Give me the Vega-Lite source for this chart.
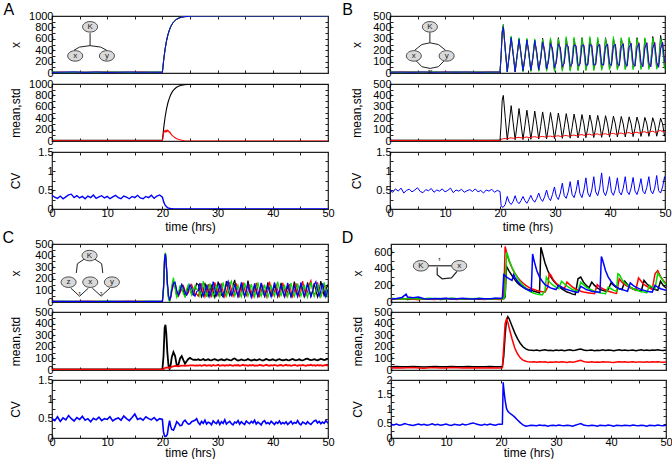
{
"$schema":"https://vega.github.io/schema/vega-lite/v6.json",
"padding":{"left":2,"top":1,"right":0,"bottom":0},
"background":"white",
"config":{
 "view":{"stroke":"#222","strokeWidth":1.2},
 "axis":{"domain":false,"grid":false,"tickSize":-3,"tickColor":"#222","tickWidth":1,"labelFont":"Liberation Sans","labelFontSize":11,"labelColor":"#000","labelFlush":false,"labelOverlap":false,"titleFont":"Liberation Sans","titleFontSize":12,"titleFontWeight":"normal","titleColor":"#000"},
 "axisX":{"labelPadding":1},
 "axisY":{"labelPadding":2},
 "text":{"font":"Liberation Sans"}
},
"datasets":{
"A":[
{"t":0,"a":14,"b":10,"c":18,"d":12,"m":13,"s":4,"cv":0.36},{"t":0.5,"cv":0.31},{"t":1,"cv":0.28},{"t":1.5,"cv":0.34},
{"t":2,"a":12,"b":16,"c":9,"d":15,"m":13,"s":3,"cv":0.27},{"t":2.5,"cv":0.32},{"t":3,"cv":0.37},{"t":3.5,"cv":0.39},
{"t":4,"a":15,"b":11,"c":14,"d":18,"m":14,"s":4,"cv":0.3},{"t":4.5,"cv":0.35},{"t":5,"cv":0.29},{"t":5.5,"cv":0.33},
{"t":6,"a":10,"b":15,"c":13,"d":12,"m":12,"s":3,"cv":0.27},{"t":6.5,"cv":0.34},{"t":7,"cv":0.3},{"t":7.5,"cv":0.37},
{"t":8,"a":16,"b":12,"c":11,"d":17,"m":14,"s":4,"cv":0.28},{"t":8.5,"cv":0.32},{"t":9,"cv":0.35},{"t":9.5,"cv":0.29},
{"t":10,"a":13,"b":18,"c":15,"d":11,"m":14,"s":4,"cv":0.33},{"t":10.5,"cv":0.27},{"t":11,"cv":0.32},{"t":11.5,"cv":0.36},
{"t":12,"a":11,"b":14,"c":17,"d":14,"m":14,"s":3,"cv":0.3},{"t":12.5,"cv":0.27},{"t":13,"cv":0.34},{"t":13.5,"cv":0.31},
{"t":14,"a":15,"b":12,"c":10,"d":16,"m":13,"s":4,"cv":0.27},{"t":14.5,"cv":0.33},{"t":15,"cv":0.3},{"t":15.5,"cv":0.36},
{"t":16,"a":14,"b":17,"c":12,"d":13,"m":14,"s":3,"cv":0.29},{"t":16.5,"cv":0.27},{"t":17,"cv":0.33},{"t":17.5,"cv":0.3},
{"t":18,"a":12,"b":13,"c":16,"d":15,"m":14,"s":4,"cv":0.36},{"t":18.5,"cv":0.28},{"t":19,"cv":0.34},{"t":19.5,"cv":0.37},
{"t":20,"a":14,"b":12,"c":16,"d":13,"m":14,"s":4,"cv":0.31},
{"t":20.25,"a":250,"b":235,"c":245,"d":240,"m":243,"s":150,"cv":0.18},{"t":20.375,"s":175},
{"t":20.5,"a":430,"b":420,"c":425,"d":428,"m":426,"s":160,"cv":0.1},{"t":20.625,"s":185},
{"t":20.75,"a":568,"b":560,"c":565,"d":566,"m":565,"s":165,"cv":0.06},{"t":20.875,"s":190},
{"t":21,"a":672,"b":668,"c":675,"d":670,"m":671,"s":170,"cv":0.03},{"t":21.125,"s":178},
{"t":21.25,"a":750,"b":745,"c":752,"d":748,"m":749,"s":150,"cv":0.02},{"t":21.375,"s":155},
{"t":21.5,"a":812,"b":808,"c":815,"d":811,"m":811,"s":128,"cv":0.01},
{"t":21.75,"a":857,"b":855,"c":860,"d":858,"m":857,"s":100,"cv":0.005},
{"t":22,"a":892,"b":890,"c":895,"d":893,"m":892,"s":80,"cv":0},{"t":22.25,"s":60},
{"t":22.5,"a":938,"b":936,"c":940,"d":939,"m":938,"s":45},
{"t":23,"a":964,"b":963,"c":966,"d":965,"m":964,"s":25},
{"t":23.5,"a":979,"b":978,"c":981,"d":980,"m":979,"s":12},
{"t":24,"a":988,"b":987,"c":990,"d":989,"m":988,"s":5},
{"t":25,"a":996,"b":995,"c":997,"d":996,"m":996,"s":1},
{"t":26,"a":999,"b":998,"c":1000,"d":999,"m":999,"s":0},
{"t":30,"a":1000,"b":1000,"c":1000,"d":1000,"m":1000,"s":0,"cv":0},
{"t":40,"a":1000,"b":1000,"c":1000,"d":1000,"m":1000,"s":0,"cv":0},
{"t":50,"a":1000,"b":1000,"c":1000,"d":1000,"m":1000,"s":0,"cv":0}
],
"B":[
{"t":0,"a":8,"b":6,"c":9,"d":7,"m":7.5,"s":3.5,"cv":0.5},{"t":0.5,"cv":0.44},{"t":1,"cv":0.53},{"t":1.5,"cv":0.47},
{"t":2,"a":7,"b":9,"c":6,"d":8,"m":7.5,"s":3.6,"cv":0.55},{"t":2.5,"cv":0.42},{"t":3,"cv":0.49},{"t":3.5,"cv":0.52},
{"t":4,"a":9,"b":7,"c":8,"d":6,"m":7.5,"s":3.4,"cv":0.45},{"t":4.5,"cv":0.5},{"t":5,"cv":0.56},{"t":5.5,"cv":0.46},
{"t":6,"a":6,"b":8,"c":7,"d":9,"m":7.5,"s":3.5,"cv":0.43},{"t":6.5,"cv":0.51},{"t":7,"cv":0.48},{"t":7.5,"cv":0.54},
{"t":8,"a":8,"b":7,"c":9,"d":6,"m":7.5,"s":3.7,"cv":0.44},{"t":8.5,"cv":0.5},{"t":9,"cv":0.47},{"t":9.5,"cv":0.53},
{"t":10,"a":7,"b":9,"c":6,"d":8,"m":7.5,"s":3.4,"cv":0.45},{"t":10.5,"cv":0.49},{"t":11,"cv":0.55},{"t":11.5,"cv":0.43},
{"t":12,"a":9,"b":6,"c":8,"d":7,"m":7.5,"s":3.6,"cv":0.5},{"t":12.5,"cv":0.47},{"t":13,"cv":0.52},{"t":13.5,"cv":0.44},
{"t":14,"a":6,"b":8,"c":7,"d":9,"m":7.5,"s":3.5,"cv":0.48},{"t":14.5,"cv":0.51},{"t":15,"cv":0.46},{"t":15.5,"cv":0.53},
{"t":16,"a":8,"b":7,"c":9,"d":6,"m":7.5,"s":3.4,"cv":0.45},{"t":16.5,"cv":0.49},{"t":17,"cv":0.42},{"t":17.5,"cv":0.5},
{"t":18,"a":7,"b":9,"c":6,"d":8,"m":7.5,"s":3.6,"cv":0.47},{"t":18.5,"cv":0.52},{"t":19,"cv":0.44},{"t":19.5,"cv":0.49},
{"t":20,"a":8,"b":7,"c":9,"d":8,"m":8,"s":3,"cv":0.46},
{"t":20.2,"a":150,"b":140,"c":145,"d":155,"m":148,"s":15,"cv":0.1},
{"t":20.4,"a":360,"b":355,"c":365,"d":350,"m":357,"s":18,"cv":0.05},
{"t":20.6,"a":425,"b":410,"c":420,"d":405,"m":400,"s":20,"cv":0.05},
{"t":20.96,"a":190,"b":210,"c":200,"d":220,"m":205,"s":22,"cv":0.12},
{"t":21.32,"a":10,"b":15,"c":8,"d":12,"m":10,"s":18,"cv":0.33},
{"t":21.67,"a":160,"b":140,"c":155,"d":150,"m":150,"s":25,"cv":0.18},
{"t":22.03,"a":315,"b":300,"c":325,"d":310,"m":310,"s":28,"cv":0.12},
{"t":22.39,"a":170,"b":180,"c":175,"d":160,"m":160,"s":24,"cv":0.2},
{"t":22.75,"a":12,"b":10,"c":15,"d":9,"m":11,"s":26,"cv":0.35},
{"t":23.1,"a":145,"b":150,"c":140,"d":155,"m":140,"s":30,"cv":0.2},
{"t":23.46,"a":300,"b":290,"c":310,"d":295,"m":285,"s":32,"cv":0.14},
{"t":23.82,"a":160,"b":170,"c":150,"d":175,"m":150,"s":28,"cv":0.22},
{"t":24.18,"a":15,"b":18,"c":10,"d":20,"m":13,"s":27,"cv":0.33},
{"t":24.53,"a":140,"b":130,"c":150,"d":135,"m":135,"s":33,"cv":0.22},
{"t":24.89,"a":295,"b":285,"c":305,"d":290,"m":270,"s":35,"cv":0.15},
{"t":25.25,"a":165,"b":175,"c":150,"d":180,"m":150,"s":30,"cv":0.25},
{"t":25.61,"a":18,"b":22,"c":12,"d":25,"m":15,"s":30,"cv":0.36},
{"t":25.96,"a":130,"b":120,"c":145,"d":125,"m":130,"s":36,"cv":0.24},
{"t":26.32,"a":290,"b":275,"c":300,"d":285,"m":262,"s":38,"cv":0.18},
{"t":26.68,"a":170,"b":185,"c":150,"d":180,"m":148,"s":33,"cv":0.28},
{"t":27.04,"a":20,"b":25,"c":15,"d":30,"m":17,"s":33,"cv":0.42},
{"t":27.39,"a":125,"b":115,"c":140,"d":120,"m":128,"s":38,"cv":0.27},
{"t":27.75,"a":305,"b":280,"c":295,"d":270,"m":255,"s":40,"cv":0.2},
{"t":28.11,"a":180,"b":200,"c":160,"d":190,"m":150,"s":36,"cv":0.32},
{"t":28.47,"a":22,"b":30,"c":15,"d":35,"m":19,"s":35,"cv":0.5},
{"t":28.82,"a":120,"b":110,"c":140,"d":105,"m":125,"s":41,"cv":0.3},
{"t":29.18,"a":300,"b":270,"c":310,"d":260,"m":250,"s":43,"cv":0.22},
{"t":29.54,"a":185,"b":210,"c":165,"d":210,"m":150,"s":38,"cv":0.38},
{"t":29.9,"a":20,"b":40,"c":12,"d":45,"m":21,"s":38,"cv":0.58},
{"t":30.25,"a":115,"b":95,"c":135,"d":100,"m":122,"s":44,"cv":0.33},
{"t":30.61,"a":310,"b":265,"c":300,"d":255,"m":245,"s":46,"cv":0.25},
{"t":30.97,"a":190,"b":220,"c":170,"d":220,"m":150,"s":40,"cv":0.42},
{"t":31.33,"a":25,"b":45,"c":15,"d":55,"m":23,"s":40,"cv":0.68},
{"t":31.68,"a":110,"b":90,"c":130,"d":85,"m":120,"s":47,"cv":0.35},
{"t":32.04,"a":305,"b":260,"c":320,"d":250,"m":240,"s":49,"cv":0.28},
{"t":32.4,"a":195,"b":230,"c":175,"d":235,"m":150,"s":43,"cv":0.45},
{"t":32.76,"a":25,"b":50,"c":15,"d":60,"m":25,"s":43,"cv":0.72},
{"t":33.11,"a":105,"b":85,"c":125,"d":80,"m":118,"s":50,"cv":0.38},
{"t":33.47,"a":300,"b":255,"c":315,"d":245,"m":236,"s":52,"cv":0.3},
{"t":33.83,"a":200,"b":235,"c":180,"d":240,"m":150,"s":46,"cv":0.48},
{"t":34.19,"a":28,"b":55,"c":18,"d":65,"m":27,"s":46,"cv":0.76},
{"t":34.54,"a":100,"b":80,"c":120,"d":75,"m":117,"s":54,"cv":0.4},
{"t":34.9,"a":310,"b":250,"c":305,"d":240,"m":232,"s":56,"cv":0.3},
{"t":35.26,"a":205,"b":240,"c":185,"d":245,"m":150,"s":50,"cv":0.5},
{"t":35.62,"a":30,"b":60,"c":20,"d":70,"m":29,"s":50,"cv":0.82},
{"t":35.97,"a":100,"b":80,"c":115,"d":70,"m":116,"s":58,"cv":0.42},
{"t":36.33,"a":305,"b":245,"c":320,"d":250,"m":228,"s":60,"cv":0.32},
{"t":36.69,"a":205,"b":245,"c":190,"d":240,"m":150,"s":52,"cv":0.5},
{"t":37.05,"a":30,"b":65,"c":20,"d":70,"m":30,"s":53,"cv":0.85},
{"t":37.4,"a":95,"b":75,"c":110,"d":75,"m":115,"s":60,"cv":0.45},
{"t":37.76,"a":300,"b":240,"c":315,"d":235,"m":225,"s":62,"cv":0.35},
{"t":38.12,"a":210,"b":250,"c":195,"d":250,"m":150,"s":55,"cv":0.55},
{"t":38.48,"a":32,"b":70,"c":22,"d":75,"m":32,"s":55,"cv":0.95},
{"t":38.83,"a":95,"b":70,"c":110,"d":70,"m":115,"s":62,"cv":0.45},
{"t":39.19,"a":310,"b":235,"c":305,"d":230,"m":222,"s":64,"cv":0.35},
{"t":39.55,"a":210,"b":255,"c":195,"d":255,"m":150,"s":57,"cv":0.52},
{"t":39.91,"a":35,"b":75,"c":25,"d":80,"m":34,"s":58,"cv":0.85},
{"t":40.26,"a":90,"b":70,"c":105,"d":65,"m":114,"s":66,"cv":0.45},
{"t":40.62,"a":300,"b":230,"c":320,"d":240,"m":218,"s":67,"cv":0.36},
{"t":40.98,"a":215,"b":255,"c":200,"d":250,"m":150,"s":60,"cv":0.52},
{"t":41.34,"a":35,"b":75,"c":25,"d":80,"m":35,"s":60,"cv":0.82},
{"t":41.69,"a":90,"b":65,"c":100,"d":65,"m":113,"s":68,"cv":0.45},
{"t":42.05,"a":305,"b":235,"c":310,"d":230,"m":215,"s":70,"cv":0.37},
{"t":42.41,"a":215,"b":260,"c":205,"d":255,"m":150,"s":63,"cv":0.55},
{"t":42.77,"a":38,"b":80,"c":28,"d":85,"m":36,"s":63,"cv":0.85},
{"t":43.12,"a":85,"b":65,"c":100,"d":60,"m":112,"s":72,"cv":0.46},
{"t":43.48,"a":300,"b":225,"c":315,"d":225,"m":212,"s":74,"cv":0.38},
{"t":43.84,"a":220,"b":260,"c":205,"d":260,"m":150,"s":66,"cv":0.55},
{"t":44.2,"a":40,"b":80,"c":28,"d":85,"m":38,"s":66,"cv":0.83},
{"t":44.55,"a":85,"b":60,"c":95,"d":60,"m":111,"s":75,"cv":0.47},
{"t":44.91,"a":310,"b":230,"c":300,"d":220,"m":210,"s":77,"cv":0.38},
{"t":45.27,"a":220,"b":265,"c":210,"d":260,"m":150,"s":70,"cv":0.55},
{"t":45.63,"a":40,"b":85,"c":30,"d":90,"m":40,"s":70,"cv":0.8},
{"t":45.98,"a":80,"b":60,"c":95,"d":55,"m":110,"s":79,"cv":0.47},
{"t":46.34,"a":300,"b":225,"c":310,"d":215,"m":207,"s":81,"cv":0.4},
{"t":46.7,"a":225,"b":265,"c":210,"d":265,"m":150,"s":73,"cv":0.57},
{"t":47.06,"a":42,"b":85,"c":30,"d":90,"m":41,"s":74,"cv":0.85},
{"t":47.41,"a":80,"b":55,"c":90,"d":55,"m":110,"s":83,"cv":0.48},
{"t":47.77,"a":320,"b":220,"c":305,"d":215,"m":204,"s":86,"cv":0.4},
{"t":48.13,"a":225,"b":270,"c":215,"d":265,"m":150,"s":77,"cv":0.55},
{"t":48.49,"a":42,"b":90,"c":32,"d":95,"m":42,"s":78,"cv":0.88},
{"t":48.84,"a":80,"b":55,"c":90,"d":50,"m":110,"s":88,"cv":0.48},
{"t":49.2,"a":330,"b":215,"c":300,"d":210,"m":200,"s":92,"cv":0.42},
{"t":49.56,"a":230,"b":270,"c":210,"d":270,"m":150,"s":82,"cv":0.58},
{"t":49.92,"a":45,"b":90,"c":35,"d":100,"m":43,"s":83,"cv":0.85},
{"t":50,"a":60,"b":80,"c":50,"d":90,"m":60,"s":85,"cv":0.75}
],
"C":[
{"t":0,"a":5,"b":6,"c":4,"d":5,"m":5,"s":2.5,"cv":0.5},{"t":0.5,"cv":0.45},{"t":1,"cv":0.55},{"t":1.5,"cv":0.43},
{"t":2,"a":6,"b":4,"c":5,"d":6,"m":5,"s":2.4,"cv":0.52},{"t":2.5,"cv":0.47},{"t":3,"cv":0.58},{"t":3.5,"cv":0.5},
{"t":4,"a":4,"b":5,"c":6,"d":5,"m":5,"s":2.6,"cv":0.44},{"t":4.5,"cv":0.53},{"t":5,"cv":0.48},{"t":5.5,"cv":0.56},
{"t":6,"a":5,"b":6,"c":4,"d":6,"m":5,"s":2.5,"cv":0.46},{"t":6.5,"cv":0.5},{"t":7,"cv":0.42},{"t":7.5,"cv":0.51},
{"t":8,"a":6,"b":5,"c":5,"d":4,"m":5,"s":2.4,"cv":0.47},{"t":8.5,"cv":0.54},{"t":9,"cv":0.45},{"t":9.5,"cv":0.5},
{"t":10,"a":5,"b":4,"c":6,"d":5,"m":5,"s":2.6,"cv":0.48},{"t":10.5,"cv":0.55},{"t":11,"cv":0.44},{"t":11.5,"cv":0.49},
{"t":12,"a":4,"b":6,"c":5,"d":6,"m":5,"s":2.5,"cv":0.52},{"t":12.5,"cv":0.46},{"t":13,"cv":0.57},{"t":13.5,"cv":0.5},
{"t":14,"a":6,"b":5,"c":4,"d":5,"m":5,"s":2.4,"cv":0.45},{"t":14.5,"cv":0.53},{"t":15,"cv":0.62},{"t":15.5,"cv":0.48},
{"t":16,"a":5,"b":6,"c":6,"d":4,"m":5,"s":2.6,"cv":0.51},{"t":16.5,"cv":0.46},{"t":17,"cv":0.55},{"t":17.5,"cv":0.5},
{"t":18,"a":6,"b":4,"c":5,"d":6,"m":5,"s":2.5,"cv":0.47},{"t":18.5,"cv":0.53},{"t":19,"cv":0.45},{"t":19.5,"cv":0.5},
{"t":20,"a":5,"b":6,"c":4,"d":5,"m":5,"s":2,"cv":0.48},
{"t":20.2,"a":120,"b":110,"c":130,"d":115,"m":118,"s":8,"cv":0.15},
{"t":20.4,"a":380,"b":370,"c":390,"d":375,"m":360,"s":15,"cv":0.05},
{"t":20.55,"a":420,"b":410,"c":425,"d":415,"m":390,"s":18,"cv":0.04},
{"t":20.7,"a":330,"b":320,"c":340,"d":335,"m":320,"s":20,"cv":0.05},
{"t":20.9,"a":150,"b":160,"c":140,"d":170,"m":150,"s":22,"cv":0.1},
{"t":21.1,"a":40,"b":50,"c":30,"d":60,"m":40,"s":20,"cv":0.3},
{"t":21.3,"a":8,"b":15,"c":5,"d":20,"m":10,"s":18,"cv":0.45},
{"t":21.5,"a":50,"b":35,"c":60,"d":40,"m":45,"s":22,"cv":0.3},
{"t":21.7,"a":120,"b":90,"c":140,"d":100,"m":110,"s":28,"cv":0.22},
{"t":22,"a":180,"b":150,"c":210,"d":160,"m":155,"s":32,"cv":0.2},
{"t":22.3,"a":130,"b":160,"c":120,"d":170,"m":120,"s":35,"cv":0.3},
{"t":22.6,"a":50,"b":90,"c":40,"d":100,"m":40,"s":33,"cv":0.42},
{"t":22.9,"a":60,"b":50,"c":80,"d":60,"m":45,"s":32,"cv":0.38},
{"t":23.2,"a":120,"b":80,"c":140,"d":90,"m":100,"s":35,"cv":0.32},
{"t":23.5,"a":150,"b":110,"c":130,"d":150,"m":120,"s":38,"cv":0.33},
{"t":23.8,"a":90,"b":140,"c":70,"d":130,"m":85,"s":38,"cv":0.42},
{"t":24.1,"a":50,"b":100,"c":45,"d":80,"m":55,"s":36,"cv":0.46},
{"t":24.4,"a":90,"b":60,"c":110,"d":60,"m":75,"s":37,"cv":0.4},
{"t":24.7,"a":140,"b":80,"c":150,"d":100,"m":95,"s":38,"cv":0.36},
{"t":25,"a":120,"b":130,"c":110,"d":150,"m":104,"s":40,"cv":0.37},
{"t":25.3,"a":70,"b":150,"c":60,"d":120,"m":95,"s":40,"cv":0.42},
{"t":25.6,"a":60,"b":110,"c":100,"d":70,"m":88,"s":39,"cv":0.44},
{"t":25.9,"a":110,"b":60,"c":140,"d":50,"m":90,"s":38,"cv":0.46},
{"t":26.2,"a":160,"b":70,"c":110,"d":90,"m":88,"s":40,"cv":0.5},
{"t":26.5,"a":150,"b":50,"c":110,"d":100,"m":92,"s":38,"cv":0.4},
{"t":26.8,"a":95,"b":95,"c":50,"d":165,"m":85,"s":42,"cv":0.35},
{"t":27.1,"a":45,"b":160,"c":100,"d":105,"m":88,"s":36,"cv":0.43},
{"t":27.4,"a":90,"b":100,"c":180,"d":50,"m":95,"s":40,"cv":0.38},
{"t":27.7,"a":165,"b":45,"c":110,"d":90,"m":84,"s":44,"cv":0.46},
{"t":28,"a":100,"b":90,"c":45,"d":150,"m":87,"s":37,"cv":0.36},
{"t":28.3,"a":50,"b":155,"c":95,"d":95,"m":92,"s":39,"cv":0.41},
{"t":28.6,"a":95,"b":95,"c":160,"d":45,"m":86,"s":41,"cv":0.39},
{"t":28.9,"a":140,"b":50,"c":100,"d":95,"m":83,"s":35,"cv":0.34},
{"t":29.2,"a":90,"b":100,"c":50,"d":175,"m":90,"s":43,"cv":0.44},
{"t":29.5,"a":40,"b":170,"c":90,"d":110,"m":94,"s":38,"cv":0.4},
{"t":29.8,"a":85,"b":105,"c":150,"d":55,"m":87,"s":40,"cv":0.37},
{"t":30.1,"a":175,"b":55,"c":95,"d":90,"m":82,"s":45,"cv":0.45},
{"t":30.4,"a":120,"b":95,"c":45,"d":160,"m":88,"s":36,"cv":0.35},
{"t":30.7,"a":60,"b":150,"c":100,"d":100,"m":92,"s":39,"cv":0.42},
{"t":31,"a":45,"b":95,"c":170,"d":50,"m":85,"s":42,"cv":0.38},
{"t":31.3,"a":95,"b":45,"c":105,"d":100,"m":84,"s":37,"cv":0.47},
{"t":31.6,"a":180,"b":85,"c":50,"d":150,"m":93,"s":41,"cv":0.36},
{"t":31.9,"a":110,"b":140,"c":95,"d":180,"m":90,"s":38,"cv":0.4},
{"t":32.2,"a":55,"b":165,"c":150,"d":110,"m":86,"s":44,"cv":0.43},
{"t":32.5,"a":90,"b":100,"c":180,"d":55,"m":83,"s":40,"cv":0.37},
{"t":32.8,"a":145,"b":50,"c":110,"d":90,"m":95,"s":36,"cv":0.34},
{"t":33.1,"a":190,"b":90,"c":50,"d":155,"m":100,"s":42,"cv":0.41},
{"t":33.4,"a":100,"b":160,"c":90,"d":95,"m":88,"s":39,"cv":0.39},
{"t":33.7,"a":50,"b":100,"c":145,"d":45,"m":82,"s":43,"cv":0.45},
{"t":34,"a":95,"b":50,"c":95,"d":100,"m":86,"s":37,"cv":0.36},
{"t":34.3,"a":150,"b":95,"c":45,"d":170,"m":91,"s":40,"cv":0.42},
{"t":34.6,"a":95,"b":170,"c":100,"d":105,"m":85,"s":45,"cv":0.38},
{"t":34.9,"a":45,"b":110,"c":165,"d":50,"m":83,"s":38,"cv":0.35},
{"t":35.2,"a":100,"b":55,"c":105,"d":95,"m":88,"s":41,"cv":0.44},
{"t":35.5,"a":185,"b":90,"c":50,"d":150,"m":94,"s":36,"cv":0.4},
{"t":35.8,"a":110,"b":150,"c":90,"d":95,"m":87,"s":42,"cv":0.37},
{"t":36.1,"a":55,"b":95,"c":155,"d":40,"m":82,"s":39,"cv":0.43},
{"t":36.4,"a":80,"b":45,"c":100,"d":90,"m":86,"s":44,"cv":0.39},
{"t":36.7,"a":140,"b":95,"c":45,"d":160,"m":90,"s":37,"cv":0.46},
{"t":37,"a":95,"b":165,"c":95,"d":100,"m":84,"s":40,"cv":0.36},
{"t":37.3,"a":45,"b":100,"c":170,"d":50,"m":88,"s":38,"cv":0.41},
{"t":37.6,"a":90,"b":50,"c":110,"d":95,"m":93,"s":43,"cv":0.38},
{"t":37.9,"a":160,"b":90,"c":50,"d":165,"m":86,"s":41,"cv":0.34},
{"t":38.2,"a":100,"b":140,"c":90,"d":105,"m":82,"s":36,"cv":0.42},
{"t":38.5,"a":50,"b":90,"c":150,"d":50,"m":87,"s":39,"cv":0.45},
{"t":38.8,"a":95,"b":45,"c":95,"d":90,"m":95,"s":45,"cv":0.37},
{"t":39.1,"a":170,"b":100,"c":40,"d":140,"m":89,"s":40,"cv":0.4},
{"t":39.4,"a":110,"b":175,"c":85,"d":90,"m":84,"s":37,"cv":0.36},
{"t":39.7,"a":55,"b":110,"c":140,"d":45,"m":88,"s":42,"cv":0.43},
{"t":40,"a":90,"b":55,"c":95,"d":100,"m":92,"s":38,"cv":0.39},
{"t":40.3,"a":150,"b":90,"c":50,"d":170,"m":85,"s":44,"cv":0.35},
{"t":40.6,"a":95,"b":150,"c":100,"d":110,"m":82,"s":39,"cv":0.41},
{"t":40.9,"a":45,"b":100,"c":175,"d":55,"m":89,"s":36,"cv":0.38},
{"t":41.2,"a":95,"b":50,"c":110,"d":90,"m":94,"s":41,"cv":0.44},
{"t":41.5,"a":165,"b":95,"c":55,"d":150,"m":88,"s":43,"cv":0.36},
{"t":41.8,"a":100,"b":165,"c":90,"d":95,"m":84,"s":37,"cv":0.4},
{"t":42.1,"a":50,"b":105,"c":150,"d":45,"m":86,"s":40,"cv":0.37},
{"t":42.4,"a":85,"b":50,"c":95,"d":100,"m":91,"s":45,"cv":0.42},
{"t":42.7,"a":140,"b":90,"c":45,"d":165,"m":85,"s":38,"cv":0.35},
{"t":43,"a":90,"b":155,"c":100,"d":100,"m":83,"s":42,"cv":0.39},
{"t":43.3,"a":45,"b":95,"c":165,"d":50,"m":90,"s":36,"cv":0.43},
{"t":43.6,"a":100,"b":45,"c":100,"d":90,"m":95,"s":39,"cv":0.36},
{"t":43.9,"a":175,"b":90,"c":50,"d":145,"m":88,"s":44,"cv":0.4},
{"t":44.2,"a":110,"b":160,"c":90,"d":95,"m":84,"s":40,"cv":0.38},
{"t":44.5,"a":55,"b":100,"c":160,"d":45,"m":87,"s":37,"cv":0.45},
{"t":44.8,"a":95,"b":50,"c":105,"d":100,"m":92,"s":41,"cv":0.37},
{"t":45.1,"a":155,"b":95,"c":50,"d":170,"m":86,"s":38,"cv":0.34},
{"t":45.4,"a":95,"b":180,"c":90,"d":105,"m":83,"s":43,"cv":0.41},
{"t":45.7,"a":45,"b":110,"c":150,"d":50,"m":88,"s":39,"cv":0.39},
{"t":46,"a":90,"b":55,"c":95,"d":95,"m":95,"s":36,"cv":0.36},
{"t":46.3,"a":170,"b":90,"c":40,"d":155,"m":98,"s":42,"cv":0.42},
{"t":46.6,"a":105,"b":150,"c":95,"d":100,"m":90,"s":40,"cv":0.38},
{"t":46.9,"a":50,"b":185,"c":170,"d":45,"m":85,"s":45,"cv":0.35},
{"t":47.2,"a":95,"b":110,"c":105,"d":90,"m":88,"s":38,"cv":0.4},
{"t":47.5,"a":160,"b":55,"c":50,"d":150,"m":93,"s":41,"cv":0.44},
{"t":47.8,"a":100,"b":95,"c":90,"d":175,"m":87,"s":37,"cv":0.46},
{"t":48.1,"a":45,"b":170,"c":155,"d":105,"m":84,"s":44,"cv":0.39},
{"t":48.4,"a":90,"b":100,"c":100,"d":50,"m":90,"s":39,"cv":0.43},
{"t":48.7,"a":180,"b":50,"c":45,"d":95,"m":96,"s":42,"cv":0.37},
{"t":49,"a":110,"b":90,"c":95,"d":160,"m":92,"s":36,"cv":0.41},
{"t":49.3,"a":55,"b":160,"c":170,"d":100,"m":86,"s":40,"cv":0.38},
{"t":49.6,"a":95,"b":100,"c":110,"d":45,"m":90,"s":43,"cv":0.45},
{"t":49.9,"a":150,"b":55,"c":50,"d":90,"m":95,"s":38,"cv":0.4},
{"t":50,"a":130,"b":70,"c":60,"d":110,"m":92,"s":40,"cv":0.42}
],
"D":[
{"t":0,"a":40,"b":30,"c":45,"d":35,"m":28,"s":18,"cv":0.47},{"t":0.5,"cv":0.45},
{"t":1,"a":35,"b":38,"c":40,"d":42,"m":30,"s":20,"cv":0.48},{"t":1.5,"cv":0.44},
{"t":2,"a":45,"b":32,"c":36,"d":55,"m":27,"s":17,"cv":0.46},{"t":2.5,"cv":0.5},{"t":2.75,"d":95},
{"t":3,"a":30,"b":42,"c":38,"d":60,"m":29,"s":19,"cv":0.47},{"t":3.5,"cv":0.45},
{"t":4,"a":38,"b":35,"c":44,"d":50,"m":31,"s":21,"cv":0.43},{"t":4.5,"cv":0.46},
{"t":5,"a":42,"b":28,"c":35,"d":60,"m":28,"s":18,"cv":0.48},{"t":5.5,"cv":0.45},
{"t":6,"a":33,"b":40,"c":40,"d":40,"m":26,"s":16,"cv":0.47},{"t":6.5,"cv":0.44},
{"t":7,"a":36,"b":34,"c":46,"d":35,"m":29,"s":19,"cv":0.46},{"t":7.5,"cv":0.49},
{"t":8,"a":40,"b":30,"c":38,"d":42,"m":30,"s":20,"cv":0.45},{"t":8.5,"cv":0.47},
{"t":9,"a":30,"b":38,"c":42,"d":38,"m":27,"s":17,"cv":0.44},{"t":9.5,"cv":0.46},
{"t":10,"a":35,"b":42,"c":36,"d":45,"m":28,"s":18,"cv":0.48},{"t":10.5,"cv":0.45},
{"t":11,"a":42,"b":35,"c":44,"d":36,"m":31,"s":21,"cv":0.43},{"t":11.5,"cv":0.47},
{"t":12,"a":38,"b":30,"c":40,"d":40,"m":29,"s":19,"cv":0.46},{"t":12.5,"cv":0.44},
{"t":13,"a":32,"b":38,"c":35,"d":44,"m":27,"s":17,"cv":0.48},{"t":13.5,"cv":0.45},
{"t":14,"a":36,"b":33,"c":42,"d":38,"m":30,"s":20,"cv":0.47},{"t":14.5,"cv":0.5},
{"t":15,"a":40,"b":40,"c":38,"d":35,"m":28,"s":18,"cv":0.52},{"t":15.5,"cv":0.48},
{"t":16,"a":34,"b":36,"c":45,"d":42,"m":29,"s":19,"cv":0.46},{"t":16.5,"cv":0.44},
{"t":17,"a":38,"b":30,"c":40,"d":40,"m":27,"s":17,"cv":0.47},{"t":17.5,"cv":0.45},
{"t":18,"a":35,"b":38,"c":36,"d":38,"m":30,"s":20,"cv":0.48},{"t":18.5,"cv":0.46},
{"t":19,"a":42,"b":34,"c":40,"d":45,"m":28,"s":18,"cv":0.44},{"t":19.5,"cv":0.47},
{"t":20,"a":35,"b":30,"c":40,"d":45,"m":28,"s":18,"cv":0.47},
{"t":20.25,"a":38,"b":35,"c":38,"d":50,"m":30,"s":20,"cv":0.48},
{"t":20.4,"cv":1.92},
{"t":20.5,"a":40,"b":60,"c":42,"d":330,"m":120,"s":200,"cv":1.7},
{"t":20.75,"a":60,"b":670,"c":90,"d":320,"m":300,"s":400,"cv":1.3},
{"t":21,"a":430,"b":600,"c":600,"d":300,"m":430,"s":440,"cv":1.02},
{"t":21.25,"a":400,"b":540,"c":560,"d":290,"m":460,"s":410,"cv":0.92},
{"t":21.5,"a":370,"b":490,"c":500,"d":280,"m":440,"s":360,"cv":0.87},
{"t":22,"a":320,"b":410,"c":420,"d":260,"m":380,"s":270,"cv":0.8},
{"t":22.3,"d":330},
{"t":22.5,"a":270,"b":350,"c":350,"d":300,"m":320,"s":190,"cv":0.72},
{"t":23,"a":230,"b":300,"c":290,"d":250,"m":270,"s":140,"cv":0.62},
{"t":23.5,"a":200,"b":260,"c":240,"d":210,"m":230,"s":105,"cv":0.53},
{"t":24,"a":180,"b":230,"c":200,"d":180,"m":200,"s":85,"cv":0.45},
{"t":24.5,"a":160,"b":200,"c":170,"d":160,"m":182,"s":75,"cv":0.41},
{"t":25,"a":150,"b":180,"c":140,"d":140,"m":172,"s":70,"cv":0.42},
{"t":25.5,"a":140,"b":160,"c":120,"d":130,"m":170,"s":68,"cv":0.44},
{"t":25.75,"d":580},
{"t":26,"a":130,"b":150,"c":105,"d":500,"m":168,"s":72,"cv":0.43},
{"t":26.5,"a":120,"b":140,"c":95,"d":380,"m":172,"s":66,"cv":0.42},
{"t":27,"a":110,"b":130,"c":90,"d":300,"m":166,"s":70,"cv":0.45},
{"t":27.25,"a":660},
{"t":27.5,"a":600,"b":125,"c":85,"d":250,"m":170,"s":68,"cv":0.43},
{"t":28,"a":470,"b":120,"c":140,"d":210,"m":174,"s":71,"cv":0.44},
{"t":28.25,"c":300},
{"t":28.5,"a":380,"b":180,"c":270,"d":190,"m":168,"s":65,"cv":0.41},
{"t":28.75,"b":340},
{"t":29,"a":310,"b":330,"c":230,"d":170,"m":171,"s":69,"cv":0.43},
{"t":29.5,"a":260,"b":270,"c":200,"d":160,"m":167,"s":67,"cv":0.44},
{"t":30,"a":220,"b":230,"c":180,"d":150,"m":173,"s":70,"cv":0.42},
{"t":30.5,"a":190,"b":200,"c":160,"d":200,"m":169,"s":66,"cv":0.45},
{"t":31,"a":160,"b":180,"c":250,"d":180,"m":172,"s":71,"cv":0.43},
{"t":31.5,"a":140,"b":160,"c":220,"d":160,"m":166,"s":68,"cv":0.42},
{"t":32,"a":120,"b":240,"c":190,"d":150,"m":170,"s":65,"cv":0.44},
{"t":32.5,"a":110,"b":210,"c":170,"d":140,"m":174,"s":70,"cv":0.43},
{"t":33,"a":95,"b":180,"c":150,"d":130,"m":168,"s":67,"cv":0.41},
{"t":33.5,"a":90,"b":160,"c":140,"d":120,"m":171,"s":72,"cv":0.44},
{"t":34,"a":280,"b":145,"c":130,"d":115,"m":176,"s":78,"cv":0.47},
{"t":34.5,"a":300,"b":130,"c":240,"d":190,"m":180,"s":84,"cv":0.5},
{"t":35,"a":240,"b":120,"c":210,"d":170,"m":172,"s":74,"cv":0.45},
{"t":35.5,"a":200,"b":115,"c":180,"d":150,"m":168,"s":68,"cv":0.43},
{"t":36,"a":170,"b":110,"c":160,"d":140,"m":170,"s":66,"cv":0.42},
{"t":36.5,"a":240,"b":105,"c":145,"d":130,"m":173,"s":70,"cv":0.44},
{"t":37,"a":200,"b":100,"c":130,"d":125,"m":167,"s":67,"cv":0.43},
{"t":37.5,"a":170,"b":210,"c":120,"d":120,"m":171,"s":69,"cv":0.41},
{"t":38,"a":150,"b":180,"c":110,"d":115,"m":169,"s":66,"cv":0.44},
{"t":38.25,"d":550},
{"t":38.5,"a":140,"b":160,"c":105,"d":500,"m":174,"s":71,"cv":0.43},
{"t":39,"a":130,"b":145,"c":100,"d":380,"m":168,"s":68,"cv":0.42},
{"t":39.5,"a":150,"b":130,"c":180,"d":300,"m":172,"s":70,"cv":0.45},
{"t":40,"a":230,"b":120,"c":160,"d":250,"m":170,"s":67,"cv":0.43},
{"t":40.5,"a":200,"b":110,"c":140,"d":210,"m":166,"s":65,"cv":0.41},
{"t":41,"a":175,"b":105,"c":130,"d":180,"m":171,"s":69,"cv":0.44},
{"t":41.25,"c":340},
{"t":41.5,"a":160,"b":280,"c":330,"d":160,"m":175,"s":72,"cv":0.43},
{"t":42,"a":150,"b":240,"c":270,"d":150,"m":169,"s":68,"cv":0.42},
{"t":42.5,"a":250,"b":210,"c":230,"d":140,"m":172,"s":70,"cv":0.44},
{"t":43,"a":210,"b":190,"c":200,"d":130,"m":168,"s":66,"cv":0.43},
{"t":43.5,"a":180,"b":170,"c":180,"d":230,"m":170,"s":69,"cv":0.42},
{"t":44,"a":160,"b":155,"c":160,"d":200,"m":173,"s":71,"cv":0.45},
{"t":44.5,"a":150,"b":140,"c":145,"d":180,"m":167,"s":67,"cv":0.43},
{"t":45,"a":140,"b":290,"c":135,"d":165,"m":171,"s":70,"cv":0.42},
{"t":45.5,"a":130,"b":250,"c":125,"d":150,"m":174,"s":68,"cv":0.44},
{"t":46,"a":260,"b":210,"c":120,"d":140,"m":169,"s":66,"cv":0.43},
{"t":46.5,"a":220,"b":190,"c":110,"d":130,"m":172,"s":70,"cv":0.41},
{"t":47,"a":190,"b":170,"c":200,"d":125,"m":168,"s":67,"cv":0.44},
{"t":47.5,"a":170,"b":150,"c":180,"d":120,"m":173,"s":71,"cv":0.43},
{"t":48,"a":150,"b":340,"c":160,"d":200,"m":170,"s":68,"cv":0.42},
{"t":48.5,"a":140,"b":380,"c":350,"d":180,"m":175,"s":72,"cv":0.45},
{"t":49,"a":250,"b":310,"c":300,"d":160,"m":171,"s":69,"cv":0.43},
{"t":49.5,"a":200,"b":260,"c":250,"d":150,"m":168,"s":67,"cv":0.42},
{"t":50,"a":170,"b":220,"c":210,"d":140,"m":172,"s":70,"cv":0.44}
],
"nA":[{"t":6.9,"v":810,"lab":"K"},{"t":4.2,"v":300,"lab":"x"},{"t":9.95,"v":300,"lab":"y"}],
"eA":[{"e":1,"o":1,"t":6.9,"v":700},{"e":1,"o":2,"t":6.9,"v":480},{"e":2,"o":1,"t":4.0,"v":400},{"e":2,"o":2,"t":5.0,"v":455},{"e":2,"o":3,"t":6.9,"v":480},{"e":2,"o":4,"t":8.8,"v":455},{"e":2,"o":5,"t":9.9,"v":400}],
"lA":[{"t":-7.8,"v":1100,"lab":"A","fs":16}],
"nB":[{"t":7.25,"v":405,"lab":"K"},{"t":4.33,"v":150,"lab":"x"},{"t":10.3,"v":150,"lab":"y"}],
"eB":[{"e":1,"o":1,"t":7.25,"v":355},{"e":1,"o":2,"t":7.25,"v":265},{"e":2,"o":1,"t":4.5,"v":200},{"e":2,"o":2,"t":5.8,"v":250},{"e":2,"o":3,"t":7.25,"v":265},{"e":2,"o":4,"t":8.8,"v":250},{"e":2,"o":5,"t":10.1,"v":200},{"e":3,"o":1,"t":4.7,"v":110},{"e":3,"o":2,"t":5.8,"v":55},{"e":3,"o":3,"t":7.3,"v":40},{"e":3,"o":4,"t":8.8,"v":55},{"e":3,"o":5,"t":9.9,"v":110}],
"lB":[{"t":-7.7,"v":550,"lab":"B","fs":16},{"t":7.3,"v":15,"lab":"τr","fs":6}],
"nC":[{"t":6.8,"v":400,"lab":"K"},{"t":3.0,"v":171,"lab":"z"},{"t":6.93,"v":171,"lab":"x"},{"t":10.85,"v":171,"lab":"y"}],
"eC":[{"e":1,"o":1,"t":6.0,"v":375},{"e":1,"o":2,"t":4.6,"v":330},{"e":1,"o":3,"t":4.4,"v":250},{"e":2,"o":1,"t":7.6,"v":375},{"e":2,"o":2,"t":9.0,"v":330},{"e":2,"o":3,"t":9.2,"v":250},{"e":3,"o":1,"t":3.4,"v":120},{"e":3,"o":2,"t":5.0,"v":50},{"e":3,"o":3,"t":6.6,"v":120},{"e":4,"o":1,"t":7.3,"v":120},{"e":4,"o":2,"t":8.9,"v":50},{"e":4,"o":3,"t":10.5,"v":120}],
"lC":[{"t":-7.9,"v":552,"lab":"C","fs":16},{"t":5.0,"v":80,"lab":"τ","fs":6},{"t":8.9,"v":80,"lab":"τ","fs":6}],
"nD":[{"t":5.43,"v":437,"lab":"K"},{"t":12.4,"v":437,"lab":"x"}],
"eD":[{"e":1,"o":1,"t":6.8,"v":437},{"e":1,"o":2,"t":11.0,"v":437},{"e":2,"o":1,"t":12.0,"v":370},{"e":2,"o":2,"t":11.0,"v":290},{"e":2,"o":3,"t":9.3,"v":280},{"e":2,"o":4,"t":8.4,"v":330},{"e":2,"o":5,"t":8.4,"v":420}],
"lD":[{"t":-7.9,"v":770,"lab":"D","fs":16},{"t":8.8,"v":520,"lab":"τ","fs":6}]
},
"spacing":-4,
"vconcat":[
{"hconcat":[
{"vconcat":[
{"width":276,"height":57,
"layer":[
{"data":{"name":"A"},"transform":[{"fold":["a","b","c","d"],"as":["k","v"]},{"filter":"isValid(datum.v)"}],
"mark":{"type":"line","strokeWidth":1,"clip":true},
"encoding":{
"x":{"field":"t","type":"quantitative","scale":{"domain":[0,50],"nice":false},"axis":{"orient":"bottom","values":[0,5,10,15,20,25,30,35,40,45,50],"labels":false,"title":null}},
"y":{"field":"v","type":"quantitative","scale":{"domain":[0,1000],"nice":false},"axis":{"orient":"left","values":[0,100,200,300,400,500,600,700,800,900,1000],"labelExpr":"datum.value % 200 == 0 ? format(datum.value,'d') : ''","title":"x","titleX":-30,"labelOverlap":false}},
"color":{"field":"k","type":"nominal","scale":{"domain":["a","b","c","d"],"range":["#000000","#ff0000","#00dd00","#0000ff"]},"legend":null}}},
{"data":{"name":"eA"},"mark":{"type":"line","color":"#222","strokeWidth":1},"encoding":{"x":{"field":"t","type":"quantitative","scale":{"domain":[0,50],"nice":false},"axis":{"orient":"top","values":[0,5,10,15,20,25,30,35,40,45,50],"labels":false,"title":null}},"y":{"field":"v","type":"quantitative","scale":{"domain":[0,1000],"nice":false},"axis":{"orient":"right","values":[0,100,200,300,400,500,600,700,800,900,1000],"labels":false,"title":null}},"detail":{"field":"e","type":"nominal"},"order":{"field":"o","type":"quantitative"}}},
{"data":{"name":"nA"},"mark":{"type":"point","shape":"M-1,0A1,0.7,0,1,1,1,0A1,0.7,0,1,1,-1,0Z","size":225,"filled":true,"fill":"#d9d9d9","stroke":"#222","strokeWidth":0.8,"opacity":1},"encoding":{"x":{"field":"t","type":"quantitative","scale":{"domain":[0,50],"nice":false},"axis":null},"y":{"field":"v","type":"quantitative","scale":{"domain":[0,1000],"nice":false},"axis":null}}},
{"data":{"name":"nA"},"mark":{"type":"text","fontSize":8,"color":"#222"},"encoding":{"x":{"field":"t","type":"quantitative","scale":{"domain":[0,50],"nice":false},"axis":null},"y":{"field":"v","type":"quantitative","scale":{"domain":[0,1000],"nice":false},"axis":null},"text":{"field":"lab","type":"nominal"}}},
{"data":{"name":"lA"},"mark":{"type":"text","color":"#000"},"encoding":{"x":{"field":"t","type":"quantitative","scale":{"domain":[0,50],"nice":false},"axis":null},"y":{"field":"v","type":"quantitative","scale":{"domain":[0,1000],"nice":false},"axis":null},"text":{"field":"lab","type":"nominal"},"size":{"field":"fs","type":"quantitative","scale":null}}}
],
"resolve":{"scale":{"x":"independent","y":"independent"}}},
{"width":276,"height":57,
"layer":[
{"data":{"name":"A"},"transform":[{"fold":["m","s"],"as":["k","v"]},{"filter":"isValid(datum.v)"}],
"mark":{"type":"line","strokeWidth":1.1,"clip":true},
"encoding":{
"x":{"field":"t","type":"quantitative","scale":{"domain":[0,50],"nice":false},"axis":{"values":[0,5,10,15,20,25,30,35,40,45,50],"labels":false,"title":null}},
"y":{"field":"v","type":"quantitative","scale":{"domain":[0,1000],"nice":false},"axis":{"values":[0,100,200,300,400,500,600,700,800,900,1000],"labelExpr":"datum.value % 200 == 0 ? format(datum.value,'d') : ''","title":"mean,std","titleX":-30}},
"color":{"field":"k","type":"nominal","scale":{"domain":["m","s"],"range":["#000000","#ff0000"]},"legend":null}}},
{"data":{"values":[{"t":0,"v":0}]},"mark":{"type":"point","opacity":0},"encoding":{"x":{"field":"t","type":"quantitative","scale":{"domain":[0,50],"nice":false},"axis":{"orient":"top","values":[0,5,10,15,20,25,30,35,40,45,50],"labels":false,"title":null}},"y":{"field":"v","type":"quantitative","scale":{"domain":[0,1000],"nice":false},"axis":{"orient":"right","values":[0,100,200,300,400,500,600,700,800,900,1000],"labels":false,"title":null}}}}
],
"resolve":{"scale":{"x":"independent","y":"independent"}}},
{"width":276,"height":57,
"layer":[
{"data":{"name":"A"},"transform":[{"filter":"isValid(datum.cv)"}],
"mark":{"type":"line","strokeWidth":1.4,"color":"#0000ff","clip":true},
"encoding":{
"x":{"field":"t","type":"quantitative","scale":{"domain":[0,50],"nice":false},"axis":{"values":[0,5,10,15,20,25,30,35,40,45,50],"labelExpr":"datum.value % 10 == 0 ? format(datum.value,'d') : ''","title":"time (hrs)","titlePadding":3}},
"y":{"field":"cv","type":"quantitative","scale":{"domain":[0,1.5],"nice":false},"axis":{"values":[0,0.25,0.5,0.75,1,1.25,1.5],"labelExpr":"round(datum.value*4) % 2 == 0 ? format(datum.value,'~g') : ''","title":"CV","titleX":-30}}}},
{"data":{"values":[{"t":0,"v":0}]},"mark":{"type":"point","opacity":0},"encoding":{"x":{"field":"t","type":"quantitative","scale":{"domain":[0,50],"nice":false},"axis":{"orient":"top","values":[0,5,10,15,20,25,30,35,40,45,50],"labels":false,"title":null}},"y":{"field":"v","type":"quantitative","scale":{"domain":[0,1.5],"nice":false},"axis":{"orient":"right","values":[0,0.25,0.5,0.75,1,1.25,1.5],"labels":false,"title":null}}}}
],
"resolve":{"scale":{"x":"independent","y":"independent"}}}
],"spacing":-2},
{"vconcat":[
{"width":275,"height":57,
"layer":[
{"data":{"name":"B"},"transform":[{"fold":["a","b","c","d"],"as":["k","v"]},{"filter":"isValid(datum.v)"}],
"mark":{"type":"line","strokeWidth":0.9,"clip":true},
"encoding":{
"x":{"field":"t","type":"quantitative","scale":{"domain":[0,50],"nice":false},"axis":{"orient":"bottom","values":[0,5,10,15,20,25,30,35,40,45,50],"labels":false,"title":null}},
"y":{"field":"v","type":"quantitative","scale":{"domain":[0,500],"nice":false},"axis":{"orient":"left","values":[0,50,100,150,200,250,300,350,400,450,500],"labelExpr":"datum.value % 100 == 0 ? format(datum.value,'d') : ''","title":"x","titleX":-27,"labelOverlap":false}},
"color":{"field":"k","type":"nominal","scale":{"domain":["a","b","c","d"],"range":["#000000","#ff0000","#00dd00","#0000ff"]},"legend":null}}},
{"data":{"name":"eB"},"mark":{"type":"line","color":"#222","strokeWidth":1},"encoding":{"x":{"field":"t","type":"quantitative","scale":{"domain":[0,50],"nice":false},"axis":{"orient":"top","values":[0,5,10,15,20,25,30,35,40,45,50],"labels":false,"title":null}},"y":{"field":"v","type":"quantitative","scale":{"domain":[0,500],"nice":false},"axis":{"orient":"right","values":[0,50,100,150,200,250,300,350,400,450,500],"labels":false,"title":null}},"detail":{"field":"e","type":"nominal"},"order":{"field":"o","type":"quantitative"}}},
{"data":{"name":"nB"},"mark":{"type":"point","shape":"M-1,0A1,0.7,0,1,1,1,0A1,0.7,0,1,1,-1,0Z","size":225,"filled":true,"fill":"#d9d9d9","stroke":"#222","strokeWidth":0.8,"opacity":1},"encoding":{"x":{"field":"t","type":"quantitative","scale":{"domain":[0,50],"nice":false},"axis":null},"y":{"field":"v","type":"quantitative","scale":{"domain":[0,500],"nice":false},"axis":null}}},
{"data":{"name":"nB"},"mark":{"type":"text","fontSize":8,"color":"#222"},"encoding":{"x":{"field":"t","type":"quantitative","scale":{"domain":[0,50],"nice":false},"axis":null},"y":{"field":"v","type":"quantitative","scale":{"domain":[0,500],"nice":false},"axis":null},"text":{"field":"lab","type":"nominal"}}},
{"data":{"name":"lB"},"mark":{"type":"text","color":"#000"},"encoding":{"x":{"field":"t","type":"quantitative","scale":{"domain":[0,50],"nice":false},"axis":null},"y":{"field":"v","type":"quantitative","scale":{"domain":[0,500],"nice":false},"axis":null},"text":{"field":"lab","type":"nominal"},"size":{"field":"fs","type":"quantitative","scale":null}}}
],
"resolve":{"scale":{"x":"independent","y":"independent"}}},
{"width":275,"height":57,
"layer":[
{"data":{"name":"B"},"transform":[{"fold":["m","s"],"as":["k","v"]},{"filter":"isValid(datum.v)"}],
"mark":{"type":"line","strokeWidth":1,"clip":true},
"encoding":{
"x":{"field":"t","type":"quantitative","scale":{"domain":[0,50],"nice":false},"axis":{"values":[0,5,10,15,20,25,30,35,40,45,50],"labels":false,"title":null}},
"y":{"field":"v","type":"quantitative","scale":{"domain":[0,500],"nice":false},"axis":{"values":[0,50,100,150,200,250,300,350,400,450,500],"labelExpr":"datum.value % 100 == 0 ? format(datum.value,'d') : ''","title":"mean,std","titleX":-27}},
"color":{"field":"k","type":"nominal","scale":{"domain":["m","s"],"range":["#000000","#ff0000"]},"legend":null}}},
{"data":{"values":[{"t":0,"v":0}]},"mark":{"type":"point","opacity":0},"encoding":{"x":{"field":"t","type":"quantitative","scale":{"domain":[0,50],"nice":false},"axis":{"orient":"top","values":[0,5,10,15,20,25,30,35,40,45,50],"labels":false,"title":null}},"y":{"field":"v","type":"quantitative","scale":{"domain":[0,500],"nice":false},"axis":{"orient":"right","values":[0,50,100,150,200,250,300,350,400,450,500],"labels":false,"title":null}}}}
],
"resolve":{"scale":{"x":"independent","y":"independent"}}},
{"width":275,"height":57,
"layer":[
{"data":{"name":"B"},"transform":[{"filter":"isValid(datum.cv)"}],
"mark":{"type":"line","strokeWidth":1,"color":"#0000ff","clip":true},
"encoding":{
"x":{"field":"t","type":"quantitative","scale":{"domain":[0,50],"nice":false},"axis":{"values":[0,5,10,15,20,25,30,35,40,45,50],"labelExpr":"datum.value % 10 == 0 ? format(datum.value,'d') : ''","title":"time (hrs)","titlePadding":3}},
"y":{"field":"cv","type":"quantitative","scale":{"domain":[0,1.5],"nice":false},"axis":{"values":[0,0.25,0.5,0.75,1,1.25,1.5],"labelExpr":"round(datum.value*4) % 2 == 0 ? format(datum.value,'~g') : ''","title":"CV","titleX":-27}}}},
{"data":{"values":[{"t":0,"v":0}]},"mark":{"type":"point","opacity":0},"encoding":{"x":{"field":"t","type":"quantitative","scale":{"domain":[0,50],"nice":false},"axis":{"orient":"top","values":[0,5,10,15,20,25,30,35,40,45,50],"labels":false,"title":null}},"y":{"field":"v","type":"quantitative","scale":{"domain":[0,1.5],"nice":false},"axis":{"orient":"right","values":[0,0.25,0.5,0.75,1,1.25,1.5],"labels":false,"title":null}}}}
],
"resolve":{"scale":{"x":"independent","y":"independent"}}}
],"spacing":-2}
],"spacing":6},
{"hconcat":[
{"vconcat":[
{"width":276,"height":58,
"layer":[
{"data":{"name":"C"},"transform":[{"fold":["a","b","c","d"],"as":["k","v"]},{"filter":"isValid(datum.v)"}],
"mark":{"type":"line","strokeWidth":1.2,"clip":true},
"encoding":{
"x":{"field":"t","type":"quantitative","scale":{"domain":[0,50],"nice":false},"axis":{"orient":"bottom","values":[0,5,10,15,20,25,30,35,40,45,50],"labels":false,"title":null}},
"y":{"field":"v","type":"quantitative","scale":{"domain":[0,500],"nice":false},"axis":{"orient":"left","values":[0,50,100,150,200,250,300,350,400,450,500],"labelExpr":"datum.value % 100 == 0 ? format(datum.value,'d') : ''","title":"x","titleX":-30,"labelOverlap":false}},
"color":{"field":"k","type":"nominal","scale":{"domain":["a","b","c","d"],"range":["#000000","#ff0000","#00dd00","#0000ff"]},"legend":null}}},
{"data":{"name":"eC"},"mark":{"type":"line","color":"#222","strokeWidth":1},"encoding":{"x":{"field":"t","type":"quantitative","scale":{"domain":[0,50],"nice":false},"axis":{"orient":"top","values":[0,5,10,15,20,25,30,35,40,45,50],"labels":false,"title":null}},"y":{"field":"v","type":"quantitative","scale":{"domain":[0,500],"nice":false},"axis":{"orient":"right","values":[0,50,100,150,200,250,300,350,400,450,500],"labels":false,"title":null}},"detail":{"field":"e","type":"nominal"},"order":{"field":"o","type":"quantitative"}}},
{"data":{"name":"nC"},"mark":{"type":"point","shape":"M-1,0A1,0.7,0,1,1,1,0A1,0.7,0,1,1,-1,0Z","size":225,"filled":true,"fill":"#d9d9d9","stroke":"#222","strokeWidth":0.8,"opacity":1},"encoding":{"x":{"field":"t","type":"quantitative","scale":{"domain":[0,50],"nice":false},"axis":null},"y":{"field":"v","type":"quantitative","scale":{"domain":[0,500],"nice":false},"axis":null}}},
{"data":{"name":"nC"},"mark":{"type":"text","fontSize":8,"color":"#222"},"encoding":{"x":{"field":"t","type":"quantitative","scale":{"domain":[0,50],"nice":false},"axis":null},"y":{"field":"v","type":"quantitative","scale":{"domain":[0,500],"nice":false},"axis":null},"text":{"field":"lab","type":"nominal"}}},
{"data":{"name":"lC"},"mark":{"type":"text","color":"#000"},"encoding":{"x":{"field":"t","type":"quantitative","scale":{"domain":[0,50],"nice":false},"axis":null},"y":{"field":"v","type":"quantitative","scale":{"domain":[0,500],"nice":false},"axis":null},"text":{"field":"lab","type":"nominal"},"size":{"field":"fs","type":"quantitative","scale":null}}}
],
"resolve":{"scale":{"x":"independent","y":"independent"}}},
{"width":276,"height":58,
"layer":[
{"data":{"name":"C"},"transform":[{"fold":["m","s"],"as":["k","v"]},{"filter":"isValid(datum.v)"}],
"mark":{"type":"line","strokeWidth":1.8,"clip":true},
"encoding":{
"x":{"field":"t","type":"quantitative","scale":{"domain":[0,50],"nice":false},"axis":{"values":[0,5,10,15,20,25,30,35,40,45,50],"labels":false,"title":null}},
"y":{"field":"v","type":"quantitative","scale":{"domain":[0,500],"nice":false},"axis":{"values":[0,50,100,150,200,250,300,350,400,450,500],"labelExpr":"datum.value % 100 == 0 ? format(datum.value,'d') : ''","title":"mean,std","titleX":-30}},
"color":{"field":"k","type":"nominal","scale":{"domain":["m","s"],"range":["#000000","#ff0000"]},"legend":null}}},
{"data":{"values":[{"t":0,"v":0}]},"mark":{"type":"point","opacity":0},"encoding":{"x":{"field":"t","type":"quantitative","scale":{"domain":[0,50],"nice":false},"axis":{"orient":"top","values":[0,5,10,15,20,25,30,35,40,45,50],"labels":false,"title":null}},"y":{"field":"v","type":"quantitative","scale":{"domain":[0,500],"nice":false},"axis":{"orient":"right","values":[0,50,100,150,200,250,300,350,400,450,500],"labels":false,"title":null}}}}
],
"resolve":{"scale":{"x":"independent","y":"independent"}}},
{"width":276,"height":58,
"layer":[
{"data":{"name":"C"},"transform":[{"filter":"isValid(datum.cv)"}],
"mark":{"type":"line","strokeWidth":1.6,"color":"#0000ff","clip":true},
"encoding":{
"x":{"field":"t","type":"quantitative","scale":{"domain":[0,50],"nice":false},"axis":{"values":[0,5,10,15,20,25,30,35,40,45,50],"labelExpr":"datum.value % 10 == 0 ? format(datum.value,'d') : ''","title":"time (hrs)","titlePadding":0}},
"y":{"field":"cv","type":"quantitative","scale":{"domain":[0,1.5],"nice":false},"axis":{"values":[0,0.25,0.5,0.75,1,1.25,1.5],"labelExpr":"round(datum.value*4) % 2 == 0 ? format(datum.value,'~g') : ''","title":"CV","titleX":-30}}}},
{"data":{"values":[{"t":0,"v":0}]},"mark":{"type":"point","opacity":0},"encoding":{"x":{"field":"t","type":"quantitative","scale":{"domain":[0,50],"nice":false},"axis":{"orient":"top","values":[0,5,10,15,20,25,30,35,40,45,50],"labels":false,"title":null}},"y":{"field":"v","type":"quantitative","scale":{"domain":[0,1.5],"nice":false},"axis":{"orient":"right","values":[0,0.25,0.5,0.75,1,1.25,1.5],"labels":false,"title":null}}}}
],
"resolve":{"scale":{"x":"independent","y":"independent"}}}
],"spacing":-3},
{"vconcat":[
{"width":275,"height":58,
"layer":[
{"data":{"name":"D"},"transform":[{"fold":["a","b","c","d"],"as":["k","v"]},{"filter":"isValid(datum.v)"}],
"mark":{"type":"line","strokeWidth":1.5,"clip":true},
"encoding":{
"x":{"field":"t","type":"quantitative","scale":{"domain":[0,50],"nice":false},"axis":{"orient":"bottom","values":[0,5,10,15,20,25,30,35,40,45,50],"labels":false,"title":null}},
"y":{"field":"v","type":"quantitative","scale":{"domain":[0,700],"nice":false},"axis":{"orient":"left","values":[0,100,200,300,400,500,600,700],"labelExpr":"datum.value % 200 == 0 ? format(datum.value,'d') : ''","title":"x","titleX":-27,"labelOverlap":false}},
"color":{"field":"k","type":"nominal","scale":{"domain":["a","b","c","d"],"range":["#000000","#ff0000","#00dd00","#0000ff"]},"legend":null}}},
{"data":{"name":"eD"},"mark":{"type":"line","color":"#222","strokeWidth":1.2},"encoding":{"x":{"field":"t","type":"quantitative","scale":{"domain":[0,50],"nice":false},"axis":{"orient":"top","values":[0,5,10,15,20,25,30,35,40,45,50],"labels":false,"title":null}},"y":{"field":"v","type":"quantitative","scale":{"domain":[0,700],"nice":false},"axis":{"orient":"right","values":[0,100,200,300,400,500,600,700],"labels":false,"title":null}},"detail":{"field":"e","type":"nominal"},"order":{"field":"o","type":"quantitative"}}},
{"data":{"name":"nD"},"mark":{"type":"point","shape":"M-1,0A1,0.7,0,1,1,1,0A1,0.7,0,1,1,-1,0Z","size":225,"filled":true,"fill":"#d9d9d9","stroke":"#222","strokeWidth":0.8,"opacity":1},"encoding":{"x":{"field":"t","type":"quantitative","scale":{"domain":[0,50],"nice":false},"axis":null},"y":{"field":"v","type":"quantitative","scale":{"domain":[0,700],"nice":false},"axis":null}}},
{"data":{"name":"nD"},"mark":{"type":"text","fontSize":8,"color":"#222"},"encoding":{"x":{"field":"t","type":"quantitative","scale":{"domain":[0,50],"nice":false},"axis":null},"y":{"field":"v","type":"quantitative","scale":{"domain":[0,700],"nice":false},"axis":null},"text":{"field":"lab","type":"nominal"}}},
{"data":{"name":"lD"},"mark":{"type":"text","color":"#000"},"encoding":{"x":{"field":"t","type":"quantitative","scale":{"domain":[0,50],"nice":false},"axis":null},"y":{"field":"v","type":"quantitative","scale":{"domain":[0,700],"nice":false},"axis":null},"text":{"field":"lab","type":"nominal"},"size":{"field":"fs","type":"quantitative","scale":null}}}
],
"resolve":{"scale":{"x":"independent","y":"independent"}}},
{"width":275,"height":58,
"layer":[
{"data":{"name":"D"},"transform":[{"fold":["m","s"],"as":["k","v"]},{"filter":"isValid(datum.v)"}],
"mark":{"type":"line","strokeWidth":1.5,"clip":true},
"encoding":{
"x":{"field":"t","type":"quantitative","scale":{"domain":[0,50],"nice":false},"axis":{"values":[0,5,10,15,20,25,30,35,40,45,50],"labels":false,"title":null}},
"y":{"field":"v","type":"quantitative","scale":{"domain":[0,500],"nice":false},"axis":{"values":[0,50,100,150,200,250,300,350,400,450,500],"labelExpr":"datum.value % 100 == 0 ? format(datum.value,'d') : ''","title":"mean,std","titleX":-27}},
"color":{"field":"k","type":"nominal","scale":{"domain":["m","s"],"range":["#000000","#ff0000"]},"legend":null}}},
{"data":{"values":[{"t":0,"v":0}]},"mark":{"type":"point","opacity":0},"encoding":{"x":{"field":"t","type":"quantitative","scale":{"domain":[0,50],"nice":false},"axis":{"orient":"top","values":[0,5,10,15,20,25,30,35,40,45,50],"labels":false,"title":null}},"y":{"field":"v","type":"quantitative","scale":{"domain":[0,500],"nice":false},"axis":{"orient":"right","values":[0,50,100,150,200,250,300,350,400,450,500],"labels":false,"title":null}}}}
],
"resolve":{"scale":{"x":"independent","y":"independent"}}},
{"width":275,"height":58,
"layer":[
{"data":{"name":"D"},"transform":[{"filter":"isValid(datum.cv)"}],
"mark":{"type":"line","strokeWidth":1.5,"color":"#0000ff","clip":true},
"encoding":{
"x":{"field":"t","type":"quantitative","scale":{"domain":[0,50],"nice":false},"axis":{"values":[0,5,10,15,20,25,30,35,40,45,50],"labelExpr":"datum.value % 10 == 0 ? format(datum.value,'d') : ''","title":"time (hrs)","titlePadding":0}},
"y":{"field":"cv","type":"quantitative","scale":{"domain":[0,2],"nice":false},"axis":{"values":[0,0.25,0.5,0.75,1,1.25,1.5,1.75,2],"labelExpr":"round(datum.value*4) % 2 == 0 ? format(datum.value,'~g') : ''","title":"CV","titleX":-27}}}},
{"data":{"values":[{"t":0,"v":0}]},"mark":{"type":"point","opacity":0},"encoding":{"x":{"field":"t","type":"quantitative","scale":{"domain":[0,50],"nice":false},"axis":{"orient":"top","values":[0,5,10,15,20,25,30,35,40,45,50],"labels":false,"title":null}},"y":{"field":"v","type":"quantitative","scale":{"domain":[0,2],"nice":false},"axis":{"orient":"right","values":[0,0.25,0.5,0.75,1,1.25,1.5,1.75,2],"labels":false,"title":null}}}}
],
"resolve":{"scale":{"x":"independent","y":"independent"}}}
],"spacing":-3}
],"spacing":6}
]
}
